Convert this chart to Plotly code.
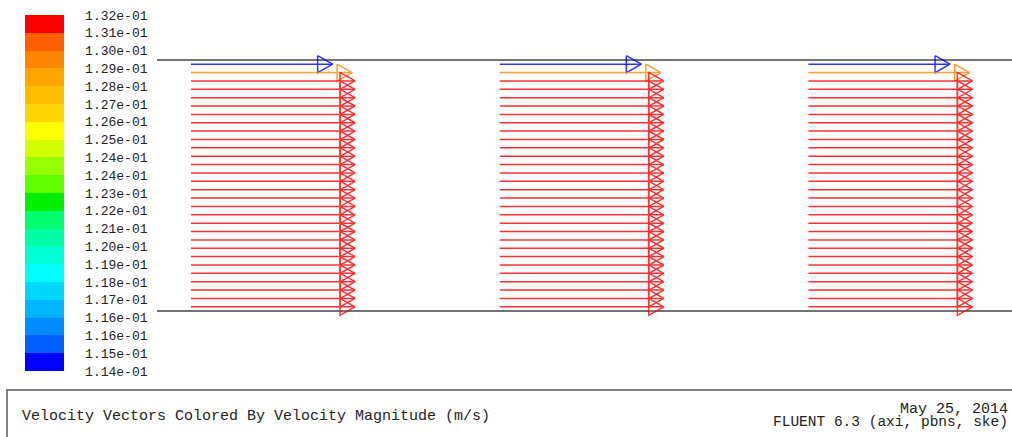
import plotly.graph_objects as go

W, H = 1012, 437

# ---------------- data ----------------
# axial position of the vector tails in each of the three sampled sections (m)
column_x = [0.0, 0.1, 0.2]
# radial position of the cell centres (normalised radius), top row first
row_r = [0.9833, 0.9500, 0.9167, 0.8833, 0.8500, 0.8167, 0.7833, 0.7500, 0.7167, 0.6833,
         0.6500, 0.6167, 0.5833, 0.5500, 0.5167, 0.4833, 0.4500, 0.4167, 0.3833, 0.3500,
         0.3167, 0.2833, 0.2500, 0.2167, 0.1833, 0.1500, 0.1167, 0.0833, 0.0500, 0.0167]
# velocity magnitude at each row (m/s), top row first
row_speed = [0.1140, 0.1297, 0.1320, 0.1320, 0.1320, 0.1320, 0.1320, 0.1320, 0.1320, 0.1320,
             0.1320, 0.1320, 0.1320, 0.1320, 0.1320, 0.1320, 0.1320, 0.1320, 0.1320, 0.1320,
             0.1320, 0.1320, 0.1320, 0.1320, 0.1320, 0.1320, 0.1320, 0.1320, 0.1320, 0.1320]
# wall radii (normalised)
wall_r = [0.0, 1.0]

# colour legend
cbar_min, cbar_max = 0.114, 0.132
band_colors_top_down = [
    "rgb(255,0,0)", "rgb(255,95,0)", "rgb(255,135,0)", "rgb(255,165,0)", "rgb(255,190,0)",
    "rgb(255,215,0)", "rgb(255,255,0)", "rgb(210,255,0)", "rgb(150,255,0)", "rgb(95,255,0)",
    "rgb(0,240,0)", "rgb(0,255,110)", "rgb(0,255,165)", "rgb(0,255,210)", "rgb(0,255,255)",
    "rgb(0,215,255)", "rgb(0,180,255)", "rgb(0,140,255)", "rgb(0,95,255)", "rgb(0,0,255)",
]
tick_labels_top_down = [
    "1.32e-01", "1.31e-01", "1.30e-01", "1.29e-01", "1.28e-01", "1.27e-01", "1.26e-01",
    "1.25e-01", "1.24e-01", "1.24e-01", "1.23e-01", "1.22e-01", "1.21e-01", "1.20e-01",
    "1.19e-01", "1.18e-01", "1.17e-01", "1.16e-01", "1.16e-01", "1.15e-01", "1.14e-01",
]

title_text = "Velocity Vectors Colored By Velocity Magnitude (m/s)"
date_text = "May 25, 2014"
solver_text = "FLUENT 6.3 (axi, pbns, ske)"

# ---------------- scales / styles ----------------
px_per_x = 3087.0          # pixels per metre (axial)
px_per_r = 251.0           # pixels per unit radius
x_left = -191.0 / px_per_x
x_range = [x_left, x_left + W / px_per_x]
r_range = [(311.0 - H) / px_per_r, 311.0 / px_per_r]
vec_scale = 0.4025          # metres of arrow per m/s
head_len = 15.0 / px_per_x
head_half = 8.5 / px_per_r
wall_x0 = -34.0 / px_per_x
mono = "Liberation Mono"
n_bands = len(band_colors_top_down)
band_step = (cbar_max - cbar_min) / n_bands


def speed_color(v):
    k = int((cbar_max - v) / band_step + 1e-9)
    k = max(0, min(n_bands - 1, k))
    return band_colors_top_down[k]


fig = go.Figure()

# walls
for r in wall_r:
    fig.add_trace(go.Scatter(x=[wall_x0, x_range[1]], y=[r, r], mode="lines",
                             line=dict(color="rgb(70,70,70)", width=1.5),
                             hoverinfo="skip", showlegend=False))

# vectors grouped by colour
groups = {}
for x0 in column_x:
    for r, v in zip(row_r, row_speed):
        c = speed_color(v)
        xs, ys = groups.setdefault(c, ([], []))
        tip = x0 + v * vec_scale
        base = tip - head_len
        xs += [x0, tip, None, base, tip, base, base, None]
        ys += [r, r, None, r + head_half, r, r - head_half, r + head_half, None]

for c, (xs, ys) in groups.items():
    fig.add_trace(go.Scatter(x=xs, y=ys, mode="lines", line=dict(color=c, width=1.5),
                             opacity=0.8, hoverinfo="skip", showlegend=False))

# colour legend
colorscale = []
bands_low_up = band_colors_top_down[::-1]
for i, c in enumerate(bands_low_up):
    colorscale.append([i / n_bands, c])
    colorscale.append([(i + 1) / n_bands, c])
tickvals = [cbar_min + k * band_step for k in range(n_bands + 1)]
ticktext = tick_labels_top_down[::-1]

fig.add_trace(go.Scatter(
    x=[column_x[0]], y=[row_r[0]], mode="markers",
    marker=dict(size=1, opacity=0, color=[cbar_min], cmin=cbar_min, cmax=cbar_max,
                colorscale=colorscale, showscale=True,
                colorbar=dict(xref="container", yref="container",
                              x=25 / W, xanchor="left", y=1 - 15 / H, yanchor="top",
                              len=356, lenmode="pixels", thickness=39, thicknessmode="pixels",
                              xpad=0, ypad=0, outlinewidth=0,
                              tickmode="array", tickvals=tickvals, ticktext=ticktext,
                              ticks="outside", ticklen=19, tickcolor="rgba(0,0,0,0)",
                              tickfont=dict(family=mono, size=13, color="#222"))),
    hoverinfo="skip", showlegend=False))

# footer frame
fig.add_shape(type="rect", xref="paper", yref="paper",
              x0=7 / W, x1=1.02, y0=-0.05, y1=1 - 390 / H,
              line=dict(color="rgb(90,90,90)", width=1.5), fillcolor="rgba(0,0,0,0)")

fig.add_annotation(text=title_text, xref="paper", yref="paper", x=20 / W, y=1 - 416 / H,
                   xanchor="left", yanchor="middle", showarrow=False,
                   font=dict(family=mono, size=15, color="#222"))
fig.add_annotation(text=date_text, xref="paper", yref="paper", x=1009 / W, y=1 - 409 / H,
                   xanchor="right", yanchor="middle", showarrow=False, borderpad=0,
                   font=dict(family=mono, size=15, color="#222"))
fig.add_annotation(text=solver_text, xref="paper", yref="paper", x=1009 / W, y=1 - 422 / H,
                   xanchor="right", yanchor="middle", showarrow=False, borderpad=0,
                   font=dict(family=mono, size=14.5, color="#222"))

fig.update_layout(
    width=W, height=H, margin=dict(l=0, r=0, t=0, b=0, pad=0, autoexpand=False),
    paper_bgcolor="white", plot_bgcolor="white",
    xaxis=dict(range=x_range, visible=False, fixedrange=True),
    yaxis=dict(range=r_range, visible=False, fixedrange=True),
)

fig.write_html("out.html", config={"displayModeBar": False},
               post_script="document.body.style.margin='0px';document.body.style.overflow='hidden';")
